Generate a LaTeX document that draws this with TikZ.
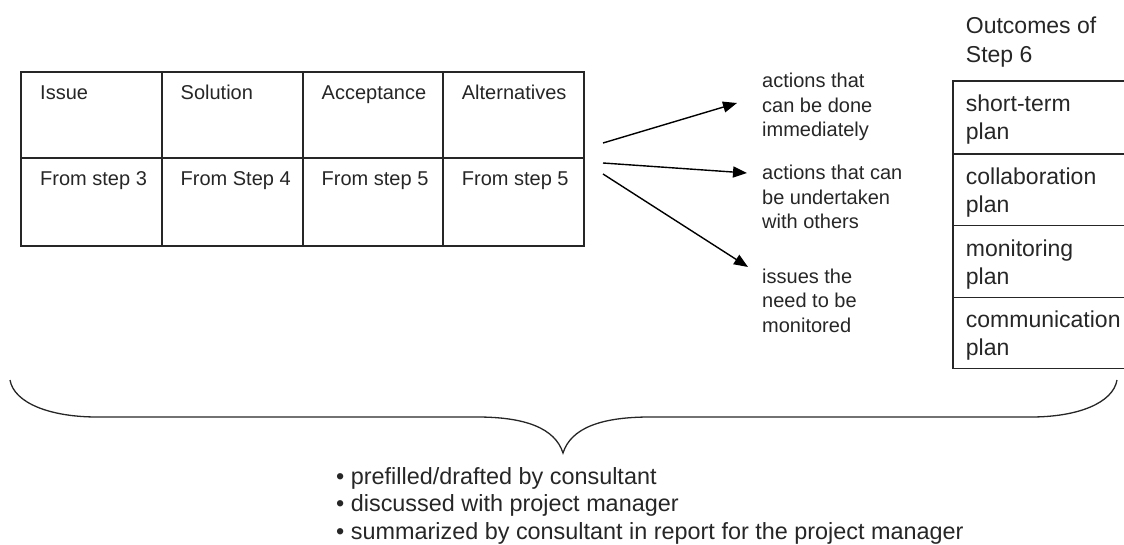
\documentclass[tikz,border=0pt]{standalone}
\usepackage{fontspec}
\setmainfont{Liberation Sans}
\usetikzlibrary{arrows.meta}
\begin{document}
\begin{tikzpicture}[x=1pt,y=-1pt,
 tline/.style={line width=1.8pt, draw=black!85},
 bline/.style={line width=1.3pt, draw=black!85},
 cell/.style={anchor=base west, inner sep=0pt, text=black!85, font=\fontsize{20}{24}\selectfont},
 lbl/.style={anchor=base west, inner sep=0pt, align=left, text=black!85, font=\fontsize{20}{24.5}\selectfont},
 box/.style={anchor=base west, inner sep=0pt, align=left, text=black!85, font=\fontsize{23}{28}\selectfont},
 arr/.style={line width=1.4pt, draw=black, -{Triangle[length=14pt,width=11pt]}},
]
\useasboundingbox (0,0) rectangle (1124,545);
% table
\draw[tline] (20.7,71.7) rectangle (584.3,245.7);
\draw[tline] (20.7,158.3) -- (584.3,158.3);
\draw[tline] (162.3,71.7) -- (162.3,245.7);
\draw[tline] (302.7,71.7) -- (302.7,245.7);
\draw[tline] (443.3,71.7) -- (443.3,245.7);
\node[cell] (h1) at (40,99.3) {Issue};
\node[cell] (h2) at (180.5,99.3) {Solution};
\node[cell] (h3) at (321.5,99.3) {Acceptance};
\node[cell] (h4) at (461.7,99.3) {Alternatives};
\node[cell] (r1) at (40,185.7) {From step 3};
\node[cell] (r2) at (180.5,185.7) {From Step 4};
\node[cell] (r3) at (321.5,185.7) {From step 5};
\node[cell] (r4) at (461.7,185.7) {From step 5};
% middle texts (anchor at last line baseline)
\node[lbl] (t1) at (762,137) {actions that\\can be done\\immediately};
\node[lbl] (t2) at (762,229) {actions that can\\be undertaken\\with others};
\node[lbl] (t3) at (762,332) {issues the\\need to be\\monitored};
% arrows
\coordinate (s1) at (603,143);
\coordinate (s2) at (603,163);
\coordinate (s3) at (603,174);
\coordinate (e1) at (737,103);
\coordinate (e2) at (747,173);
\coordinate (e3) at (748,267);
\draw[arr] (s1) -- (e1);
\draw[arr] (s2) -- (e2);
\draw[arr] (s3) -- (e3);
% outcomes
\node[box] (oc) at (965.7,63) {Outcomes of\\[1pt]Step 6};
\draw[bline] (1126,81) -- (953,81) -- (953,368.3) -- (1126,368.3);
\draw[bline] (953,154) -- (1126,154);
\draw[bline] (953,225.7) -- (1126,225.7);
\draw[bline] (953,297.3) -- (1126,297.3);
\node[box] (p1) at (965.7,139.7) {short-term\\plan};
\node[box] (p2) at (965.7,212.5) {collaboration\\plan};
\node[box] (p3) at (965.7,284) {monitoring\\plan};
\node[box] (p4) at (965.7,355.5) {communication\\plan};
% brace
\draw[bline] (10,380) .. controls (14,403) and (50,417) .. (97,417) -- (477,417)
  .. controls (525,417) and (555,428) .. (563,453)
  .. controls (571,428) and (601,417) .. (650,417) -- (1031,417)
  .. controls (1078,417) and (1113,403) .. (1117,380);
% bottom text
\node[anchor=base west, inner sep=0pt, align=left, text=black!85, font=\fontsize{23.4}{27.5}\selectfont] (bt) at (336,539)
 {• prefilled/drafted by consultant\\• discussed with project manager\\• summarized by consultant in report for the project manager};
\end{tikzpicture}
\end{document}
